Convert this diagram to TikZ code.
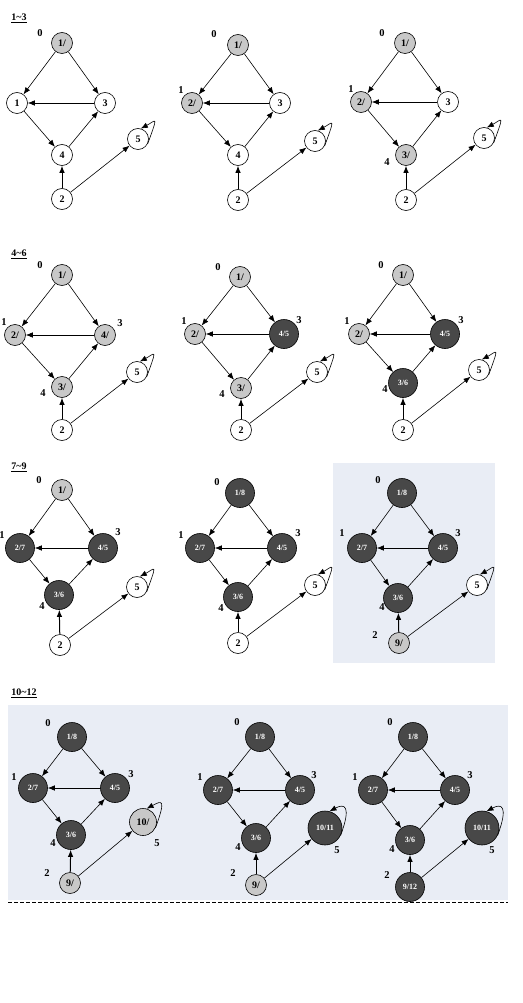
\documentclass[tikz,border=0pt]{standalone}
\usepackage{fontspec}
\setmainfont{Liberation Serif}
\usetikzlibrary{arrows.meta}
\definecolor{lightg}{RGB}{200,200,200}
\definecolor{darkg}{RGB}{72,72,72}
\definecolor{bgc}{RGB}{233,237,245}

\newcommand\styles[6]{\tikzset{sT/.style={#1},sL/.style={#2},sR/.style={#3},sB/.style={#4},sN/.style={#5},sF/.style={#6}}}
\newcommand\texts[6]{\def\tT{#1}\def\tL{#2}\def\tR{#3}\def\tB{#4}\def\tN{#5}\def\tF{#6}}
\newcommand\dfs[7]{%
  \node[sT] (#1T) at (#2) {\tT};
  \node[sL] (#1L) at (#3) {\tL};
  \node[sR] (#1R) at (#4) {\tR};
  \node[sB] (#1B) at (#5) {\tB};
  \node[sN] (#1N) at (#6) {\tN};
  \node[sF] (#1F) at (#7) {\tF};
  \draw[conn] (#1T) -- (#1L);
  \draw[conn] (#1T) -- (#1R);
  \draw[conn] (#1R) -- (#1L);
  \draw[conn] (#1L) -- (#1B);
  \draw[conn] (#1B) -- (#1R);
  \draw[conn, line width=1pt] (#1N) -- (#1B);
  \draw[conn] (#1N) -- (#1F);
  \draw[conn] (#1F.-25) .. controls +(11,-30) and +(15,-8) .. (#1F.75);
}
\newcommand\lab[5]{\node[lbl] (#1) at ([shift={(#3,#4)}]#2) {#5};}

\begin{document}
\begin{tikzpicture}[x=1pt,y=-1pt,
  wn/.style={circle, draw, line width=0.6pt, fill=white, minimum size=21pt, inner sep=0pt,
    font=\bfseries\fontsize{10}{10}\selectfont},
  ln/.style={wn, fill=lightg},
  lnb/.style={ln, minimum size=27pt},
  dn/.style={wn, fill=darkg, text=white, minimum size=29pt, font=\bfseries\fontsize{8}{8}\selectfont},
  dnb/.style={dn, minimum size=34pt},
  conn/.style={-{Latex[length=7pt,width=5.5pt]}, line width=0.6pt},
  lbl/.style={inner sep=0pt, font=\bfseries\fontsize{10.5}{10.5}\selectfont},
  ttl/.style={inner sep=0pt, font=\bfseries\fontsize{10}{10}\selectfont}]
\useasboundingbox (0,0) rectangle (522,1003);
\fill[white] (0,0) rectangle (522,1003);
\fill[bgc] (333,463) rectangle (495,663);
\fill[bgc] (8,705) rectangle (508,900);
\coordinate (dl) at (8,902);
\coordinate (dr) at (508,902);
\draw[dashed, line width=0.6pt, dash pattern=on 4pt off 2pt] (dl) -- (dr);

\node[ttl] (t1) at (19,18) {\underline{1\textasciitilde 3}};
\node[ttl] (t2) at (19,254) {\underline{4\textasciitilde 6}};
\node[ttl] (t3) at (19,467) {\underline{7\textasciitilde 9}};
\node[ttl] (t4) at (24,693) {\underline{10\textasciitilde 12}};

% ---- row 1
\styles{ln}{wn}{wn}{wn}{wn}{wn}\texts{1/}{1}{3}{4}{2}{5}
\dfs{a}{62,43}{17,103}{105,103}{62,155}{62,199}{138,139}
\lab{a0}{aT}{-22}{-10}{0}

\styles{ln}{ln}{wn}{wn}{wn}{wn}\texts{1/}{2/}{3}{4}{2}{5}
\dfs{b}{238,45}{192,103}{280,103}{238,155}{238,200}{315,141}
\lab{b0}{bT}{-24}{-11}{0}
\lab{b1}{bL}{-11}{-13}{1}

\styles{ln}{ln}{wn}{ln}{wn}{wn}\texts{1/}{2/}{3}{3/}{2}{5}
\dfs{c}{405,43}{361,102}{448,102}{406,155}{406,200}{484,138}
\lab{c0}{cT}{-23}{-10}{0}
\lab{c1}{cL}{-10}{-13}{1}
\lab{c4}{cB}{-19}{7}{4}

% ---- row 2
\styles{ln}{ln}{ln}{ln}{wn}{wn}\texts{1/}{2/}{4/}{3/}{2}{5}
\dfs{d}{62,275}{15,335}{105,335}{62,387}{62,430}{137,372}
\lab{d0}{dT}{-22}{-10}{0}
\lab{d1}{dL}{-11}{-13}{1}
\lab{d3}{dR}{15}{-12}{3}
\lab{d4}{dB}{-19}{6}{4}

\styles{ln}{ln}{dn}{ln}{wn}{wn}\texts{1/}{2/}{4/5}{3/}{2}{5}
\dfs{e}{240,277}{195,334}{284,334}{241,388}{241,430}{317,372}
\lab{e0}{eT}{-22}{-10}{0}
\lab{e1}{eL}{-11}{-13}{1}
\lab{e3}{eR}{15}{-14}{3}
\lab{e4}{eB}{-19}{6}{4}

\styles{ln}{ln}{dn}{dn}{wn}{wn}\texts{1/}{2/}{4/5}{3/6}{2}{5}
\dfs{f}{403,275}{359,334}{445,334}{403,383}{403,430}{479,370}
\lab{f0}{fT}{-22}{-10}{0}
\lab{f1}{fL}{-12}{-13}{1}
\lab{f3}{fR}{16}{-14}{3}
\lab{f4}{fB}{-18}{6}{4}

% ---- row 3
\styles{ln}{dn}{dn}{dn}{wn}{wn}\texts{1/}{2/7}{4/5}{3/6}{2}{5}
\dfs{g}{62,490}{20,548}{103,548}{59,595}{60,645}{137,587}
\lab{g0}{gT}{-23}{-10}{0}
\lab{g1}{gL}{-18}{-13}{1}
\lab{g3}{gR}{15}{-16}{3}
\lab{g4}{gB}{-17}{11}{4}

\styles{dn}{dn}{dn}{dn}{wn}{wn}\texts{1/8}{2/7}{4/5}{3/6}{2}{5}
\dfs{h}{240,493}{200,548}{282,548}{238,597}{238,643}{315,585}
\lab{h0}{hT}{-23}{-11}{0}
\lab{h1}{hL}{-19}{-13}{1}
\lab{h3}{hR}{16}{-15}{3}
\lab{h4}{hB}{-17}{11}{4}

\styles{dn}{dn}{dn}{dn}{ln}{wn}\texts{1/8}{2/7}{4/5}{3/6}{9/}{5}
\dfs{i}{402,493}{362,548}{443,548}{398,598}{399,643}{477,585}
\lab{i0}{iT}{-24}{-13}{0}
\lab{i1}{iL}{-20}{-15}{1}
\lab{i3}{iR}{15}{-15}{3}
\lab{i4}{iB}{-16}{9}{4}
\lab{i2}{iN}{-24}{-8}{2}

% ---- row 4
\styles{dn}{dn}{dn}{dn}{ln}{lnb}\texts{1/8}{2/7}{4/5}{3/6}{9/}{10/}
\dfs{j}{72,737}{33,788}{115,788}{71,835}{70,883}{143,822}
\lab{j0}{jT}{-24}{-14}{0}
\lab{j1}{jL}{-19}{-11}{1}
\lab{j3}{jR}{16}{-14}{3}
\lab{j4}{jB}{-18}{8}{4}
\lab{j2}{jN}{-23}{-10}{2}
\lab{j5}{jF}{14}{21}{5}

\styles{dn}{dn}{dn}{dn}{ln}{dnb}\texts{1/8}{2/7}{4/5}{3/6}{9/}{10/11}
\dfs{k}{260,737}{218,790}{300,790}{256,838}{256,885}{325,828}
\lab{k0}{kT}{-23}{-15}{0}
\lab{k1}{kL}{-18}{-13}{1}
\lab{k3}{kR}{14}{-15}{3}
\lab{k4}{kB}{-18}{9}{4}
\lab{k2}{kN}{-23}{-12}{2}
\lab{k5}{kF}{12}{22}{5}

\styles{dn}{dn}{dn}{dn}{dn}{dnb}\texts{1/8}{2/7}{4/5}{3/6}{9/12}{10/11}
\dfs{l}{413,737}{373,790}{455,790}{410,840}{410,887}{482,828}
\lab{l0}{lT}{-23}{-15}{0}
\lab{l1}{lL}{-18}{-13}{1}
\lab{l3}{lR}{15}{-15}{3}
\lab{l4}{lB}{-18}{9}{4}
\lab{l2}{lN}{-23}{-12}{2}
\lab{l5}{lF}{10}{22}{5}
\end{tikzpicture}
\end{document}
